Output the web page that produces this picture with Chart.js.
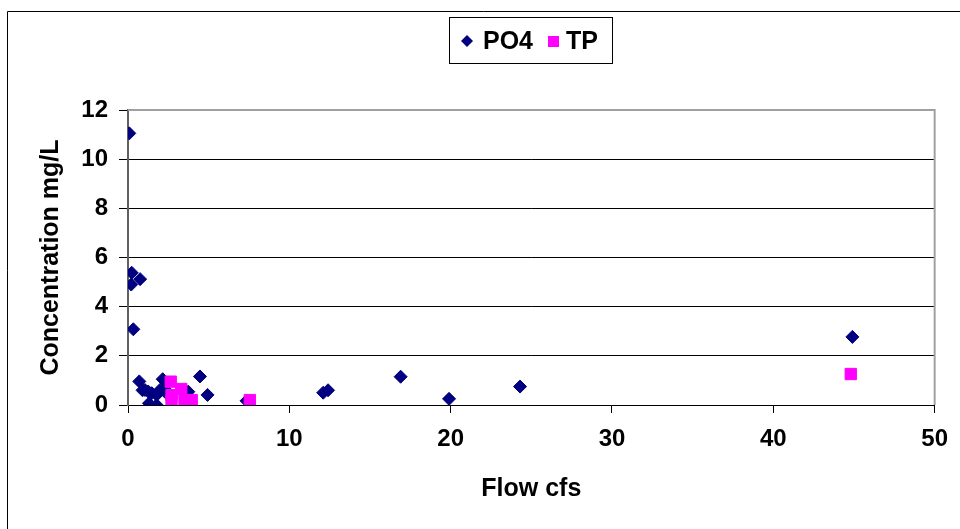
<!DOCTYPE html>
<html>
<head>
<meta charset="utf-8">
<script src="https://cdn.jsdelivr.net/npm/chart.js@4/dist/chart.umd.min.js"></script>
<style>
  html, body { margin: 0; padding: 0; background: #fff; }
  #wrap { width: 960px; height: 529px; position: relative; }
</style>
</head>
<body>
<div id="wrap"><canvas id="c" width="960" height="529"></canvas></div>
<script>
// ---- data ----
const seriesNames = ["PO4", "TP"];
const po4Flow = [0.08, 0.23, 0.75, 0.2, 0.33, 0.7, 1.05, 0.9, 1.25, 1.47, 1.3, 1.78, 1.78, 1.98, 2.15, 2.29, 2.35, 3.63, 3.74, 4.46, 4.93, 7.35, 12.1, 12.4, 16.9, 19.9, 24.3, 44.9];
const po4Conc = [11.05, 5.38, 5.12, 4.9, 3.08, 0.96, 0.61, 0.6, 0.55, 0.48, 0.07, 0.0, 0.41, 0.61, 1.05, 0.64, 0.5, 0.54, 0.54, 1.16, 0.41, 0.17, 0.5, 0.6, 1.15, 0.25, 0.75, 2.77];
const tpFlow = [2.65, 3.3, 2.7, 3.5, 3.95, 2.7, 7.55, 44.8];
const tpConc = [0.95, 0.65, 0.2, 0.2, 0.2, 0.4, 0.2, 1.26];
const xTicks = [0, 10, 20, 30, 40, 50];
const yTicks = [0, 2, 4, 6, 8, 10, 12];
const xTitle = "Flow cfs";
const yTitle = "Concentration mg/L";

const FONT = "'Liberation Sans', Arial, sans-serif";
const po4Color = "#000080";
const tpColor = "#FF00FF";

function toPoints(xs, ys) { return xs.map((x, i) => ({ x: x, y: ys[i] })); }

const frame = {
  id: 'frame',
  beforeDraw(chart) {
    const ctx = chart.ctx;
    ctx.save();
    ctx.fillStyle = '#fff';
    ctx.fillRect(0, 0, chart.width, chart.height);
    ctx.strokeStyle = '#000';
    ctx.lineWidth = 1;
    ctx.beginPath();
    ctx.moveTo(7.5, chart.height);
    ctx.lineTo(7.5, 11.5);
    ctx.lineTo(chart.width, 11.5);
    ctx.stroke();
    ctx.restore();
  },
  beforeDatasetsDraw(chart) {
    const ctx = chart.ctx, a = chart.chartArea;
    ctx.save();
    ctx.strokeStyle = '#a0a0a0';
    ctx.lineWidth = 2;
    ctx.beginPath();
    ctx.moveTo(a.left, a.top);
    ctx.lineTo(a.right, a.top);
    ctx.lineTo(a.right, a.bottom);
    ctx.stroke();
    ctx.restore();
  },
  afterDraw(chart) {
    // legend box
    const ctx = chart.ctx;
    ctx.save();
    ctx.strokeStyle = '#000';
    ctx.lineWidth = 1;
    ctx.fillStyle = '#fff';
    ctx.fillRect(449.5, 17.5, 163, 46);
    ctx.strokeRect(449.5, 17.5, 163, 46);
    const cy = 41;
    const ds = chart.data.datasets;
    // PO4 diamond
    ctx.fillStyle = ds[0].backgroundColor;
    ctx.beginPath();
    ctx.moveTo(467 - 6, cy); ctx.lineTo(467, cy - 6); ctx.lineTo(467 + 6, cy); ctx.lineTo(467, cy + 6);
    ctx.closePath(); ctx.fill();
    // TP square
    ctx.fillStyle = ds[1].backgroundColor;
    ctx.fillRect(548, cy - 5, 11, 11);
    ctx.fillStyle = '#000';
    ctx.font = "bold 25px " + FONT;
    ctx.textBaseline = 'middle';
    ctx.textAlign = 'left';
    ctx.fillText(ds[0].label, 483, cy + 1);
    ctx.fillText(ds[1].label, 566, cy + 1);
    ctx.restore();
  }
};

new Chart(document.getElementById('c'), {
  type: 'scatter',
  data: {
    datasets: [
      {
        label: seriesNames[0],
        data: toPoints(po4Flow, po4Conc),
        backgroundColor: po4Color,
        borderColor: po4Color,
        borderWidth: 1,
        pointStyle: 'rectRot',
        pointRadius: 6.5,
        order: 1
      },
      {
        label: seriesNames[1],
        data: toPoints(tpFlow, tpConc),
        backgroundColor: tpColor,
        borderColor: tpColor,
        borderWidth: 1,
        pointStyle: 'rect',
        pointRadius: 8,
        order: 0
      }
    ]
  },
  options: {
    responsive: false,
    animation: false,
    devicePixelRatio: 1,
    layout: { padding: { top: 110, right: 25, left: 0, bottom: 0 } },
    plugins: {
      legend: { display: false },
      tooltip: { enabled: false }
    },
    scales: {
      x: {
        type: 'linear',
        min: 0, max: 50,
        afterFit(s) { s.height = 124; },
        afterBuildTicks(s) { s.ticks = xTicks.map(v => ({ value: v })); },
        grid: { drawOnChartArea: false, drawTicks: true, tickLength: 8, color: '#000', lineWidth: 1 },
        border: { color: '#000', width: 1 },
        ticks: { color: '#000', padding: 12, font: { family: FONT, size: 24, weight: 'bold' }, maxRotation: 0 },
        title: { display: true, text: xTitle, color: '#000', font: { family: FONT, size: 25, weight: 'bold' }, padding: { top: 0, bottom: 25 } }
      },
      y: {
        type: 'linear',
        min: 0, max: 12,
        afterFit(s) { s.width = 128; },
        afterBuildTicks(s) { s.ticks = yTicks.map(v => ({ value: v })); },
        grid: { drawTicks: true, tickLength: 9, color: '#000', lineWidth: 1 },
        border: { color: '#606060', width: 2 },
        ticks: { color: '#000', padding: 11, font: { family: FONT, size: 24, weight: 'bold' } },
        title: { display: true, text: yTitle, color: '#000', font: { family: FONT, size: 25, weight: 'bold' }, padding: { top: 36, bottom: 0 } }
      }
    }
  },
  plugins: [frame]
});
</script>
</body>
</html>
